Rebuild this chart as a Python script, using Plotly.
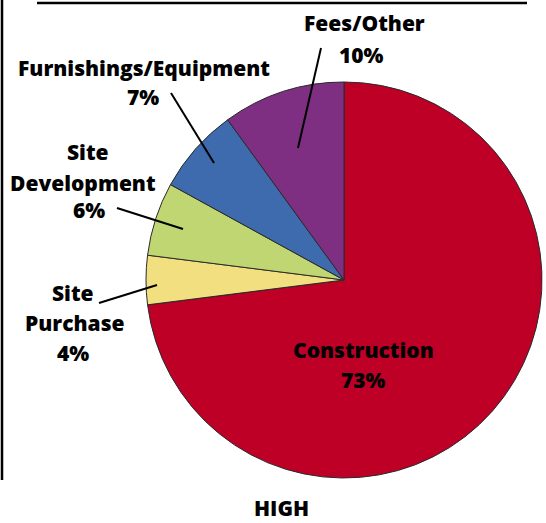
import plotly.graph_objects as go

labels = ["Construction", "Site Purchase", "Site Development", "Furnishings/Equipment", "Fees/Other"]
values = [73, 4, 6, 7, 10]
colors = ["#BE0027", "#F2DF80", "#BFD672", "#3D6BAE", "#7E2F82"]
title_text = "HIGH"

W, H = 546, 523

def px(x, y):
    return x / W, 1 - y / H

cx, cy, r = 344, 280, 198
x0, y1 = px(cx - r, cy - r)
x1, y0 = px(cx + r, cy + r)

fig = go.Figure(go.Pie(
    labels=labels, values=values, sort=False, direction="clockwise", rotation=0,
    marker=dict(colors=colors, line=dict(color="#2a2a2a", width=1)),
    textinfo="none", hoverinfo="label+percent", showlegend=False,
    domain=dict(x=[x0, x1], y=[y0, y1]),
))

FONT = dict(family="Open Sans", size=21, color="#000000", weight=800)

# label line positions (text centre, in pixels) for each slice label line
label_lines = {
    "Construction": [(363, 349), (363, 379)],
    "Site Purchase": [(73, 292), (75, 322), (73, 352)],
    "Site Development": [(88, 151), (83, 182), (89, 209)],
    "Furnishings/Equipment": [(144, 67), (143, 96)],
    "Fees/Other": [(364, 22), (361, 54)],
}
leaders = {
    "Site Purchase": ((99, 303), (157, 285)),
    "Site Development": ((117, 208), (183, 229)),
    "Furnishings/Equipment": ((171, 93), (214, 163)),
    "Fees/Other": ((321, 48), (298, 148)),
}
wrapped = {
    "Site Purchase": ["Site", "Purchase"],
    "Site Development": ["Site", "Development"],
}

annotations = []
shapes = []
for lab, val in zip(labels, values):
    parts = wrapped.get(lab, [lab]) + [f"{val}%"]
    for txt, (lx, ly) in zip(parts, label_lines[lab]):
        x, y = px(lx, ly + 1)
        annotations.append(dict(
            x=x, y=y, xref="paper", yref="paper", showarrow=False,
            text=txt, font=FONT, align="center",
            xanchor="center", yanchor="middle", borderpad=0,
        ))
    if lab in leaders:
        (ax, ay), (bx, by) = leaders[lab]
        a = px(ax, ay); b = px(bx, by)
        shapes.append(dict(type="line", xref="paper", yref="paper",
                           x0=a[0], y0=a[1], x1=b[0], y1=b[1],
                           line=dict(color="#000000", width=2)))

tx, ty = px(281, 508)
annotations.append(dict(x=tx, y=ty, xref="paper", yref="paper", showarrow=False,
                        text=title_text, font=FONT, borderpad=0,
                        xanchor="center", yanchor="middle"))

# frame lines
a = px(37, 3); b = px(527, 3)
shapes.append(dict(type="line", xref="paper", yref="paper", x0=a[0], y0=a[1], x1=b[0], y1=b[1],
                   line=dict(color="#000000", width=2.5)))
a = px(2, 0); b = px(2, 480)
shapes.append(dict(type="line", xref="paper", yref="paper", x0=a[0], y0=a[1], x1=b[0], y1=b[1],
                   line=dict(color="#000000", width=2.5)))

fig.update_layout(
    width=W, height=H, margin=dict(l=0, r=0, t=0, b=0),
    paper_bgcolor="white", plot_bgcolor="white",
    annotations=annotations, shapes=shapes,
)

fig.write_html("out.html", config={"displayModeBar": False},
               post_script="document.body.style.margin='0';document.body.style.overflow='hidden';")
